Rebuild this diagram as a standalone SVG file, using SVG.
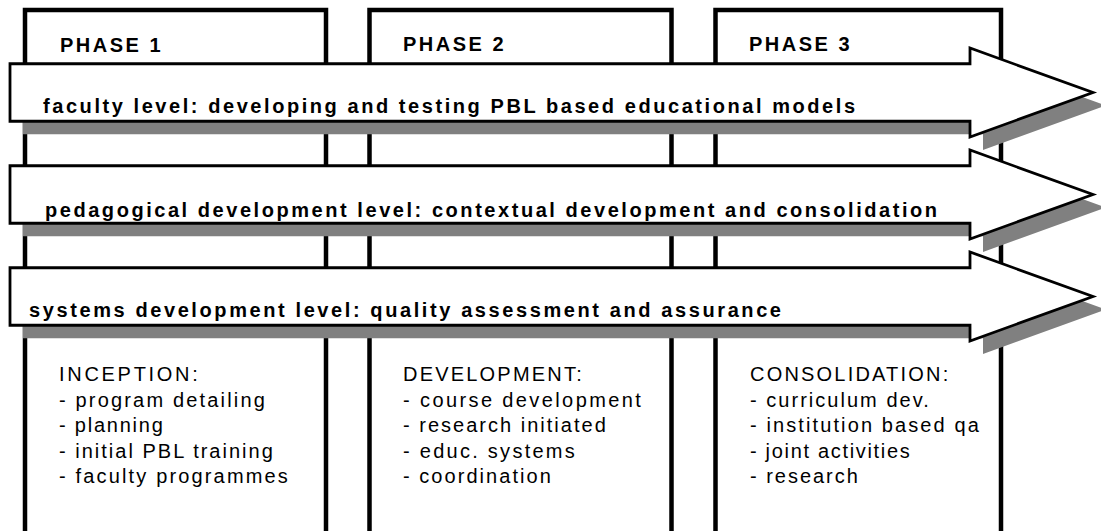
<svg xmlns="http://www.w3.org/2000/svg" width="1101" height="531" viewBox="0 0 1101 531">
  <style>
    .phase { fill: #ffffff; stroke: #000000; stroke-width: 4.5; }
    .arrow { fill: #ffffff; stroke: #000000; stroke-width: 2.8; stroke-linejoin: miter; }
    .shadow { fill: #808080; stroke: none; }
    .hdr { font-family: "Liberation Sans", Arial, sans-serif; font-size: 20px; font-weight: bold; fill: #000000; letter-spacing: 2.5px; }
    .lvl { font-family: "Liberation Sans", Arial, sans-serif; font-size: 20px; font-weight: bold; fill: #000000; }
    .item { font-family: "Liberation Sans", Arial, sans-serif; font-size: 20px; fill: #000000; letter-spacing: 2.2px; }
  </style>
  <defs>
    <polygon id="arrowShape" points="10,-28.75 970,-28.75 970,-44.5 1093,0 970,44.5 970,28.75 10,28.75"/>
  </defs>
  <rect x="0" y="0" width="1101" height="531" fill="#ffffff"/>

  <g id="phase1">
    <rect class="phase" x="25" y="10" width="301" height="560"/>
    <text class="hdr" x="60" y="52">PHASE 1</text>
    <text class="item" x="59" y="381" textLength="141" lengthAdjust="spacing">INCEPTION:</text>
    <text class="item" x="59" y="406.5" textLength="208" lengthAdjust="spacing">- program detailing</text>
    <text class="item" x="59" y="432" textLength="106" lengthAdjust="spacing">- planning</text>
    <text class="item" x="59" y="457.5" textLength="216" lengthAdjust="spacing">- initial PBL training</text>
    <text class="item" x="59" y="482.5" textLength="231" lengthAdjust="spacing">- faculty programmes</text>
  </g>
  <g id="phase2">
    <rect class="phase" x="369.5" y="10" width="302" height="560"/>
    <text class="hdr" x="403" y="51">PHASE 2</text>
    <text class="item" x="403" y="381">DEVELOPMENT:</text>
    <text class="item" x="403" y="406.5" textLength="240" lengthAdjust="spacing">- course development</text>
    <text class="item" x="403" y="432" textLength="205" lengthAdjust="spacing">- research initiated</text>
    <text class="item" x="403" y="457.5" textLength="174" lengthAdjust="spacing">- educ. systems</text>
    <text class="item" x="403" y="482.5" textLength="150" lengthAdjust="spacing">- coordination</text>
  </g>
  <g id="phase3">
    <rect class="phase" x="715.5" y="10" width="285.5" height="560"/>
    <text class="hdr" x="749" y="51">PHASE 3</text>
    <text class="item" x="750" y="381">CONSOLIDATION:</text>
    <text class="item" x="750" y="406.5" textLength="181" lengthAdjust="spacing">- curriculum dev.</text>
    <text class="item" x="750" y="432" textLength="231" lengthAdjust="spacing">- institution based qa</text>
    <text class="item" x="750" y="457.5" textLength="162" lengthAdjust="spacing">- joint activities</text>
    <text class="item" x="750" y="482.5" textLength="110" lengthAdjust="spacing">- research</text>
  </g>

  <g id="connectors">
    <g id="level-faculty">
      <use href="#arrowShape" class="shadow" transform="translate(13,105.5)"/>
      <use href="#arrowShape" class="arrow" transform="translate(0,92.5)"/>
      <text class="lvl" x="43" y="113" textLength="812" lengthAdjust="spacing">faculty level: developing and testing PBL based educational models</text>
    </g>
    <g id="level-pedagogical">
      <use href="#arrowShape" class="shadow" transform="translate(13,207.5)"/>
      <use href="#arrowShape" class="arrow" transform="translate(0,194.5)"/>
      <text class="lvl" x="45" y="217" textLength="892" lengthAdjust="spacing">pedagogical development level: contextual development and consolidation</text>
    </g>
    <g id="level-systems">
      <use href="#arrowShape" class="shadow" transform="translate(13,309.5)"/>
      <use href="#arrowShape" class="arrow" transform="translate(0,296.5)"/>
      <text class="lvl" x="29" y="317" textLength="752" lengthAdjust="spacing">systems development level: quality assessment and assurance</text>
    </g>
  </g>
</svg>
